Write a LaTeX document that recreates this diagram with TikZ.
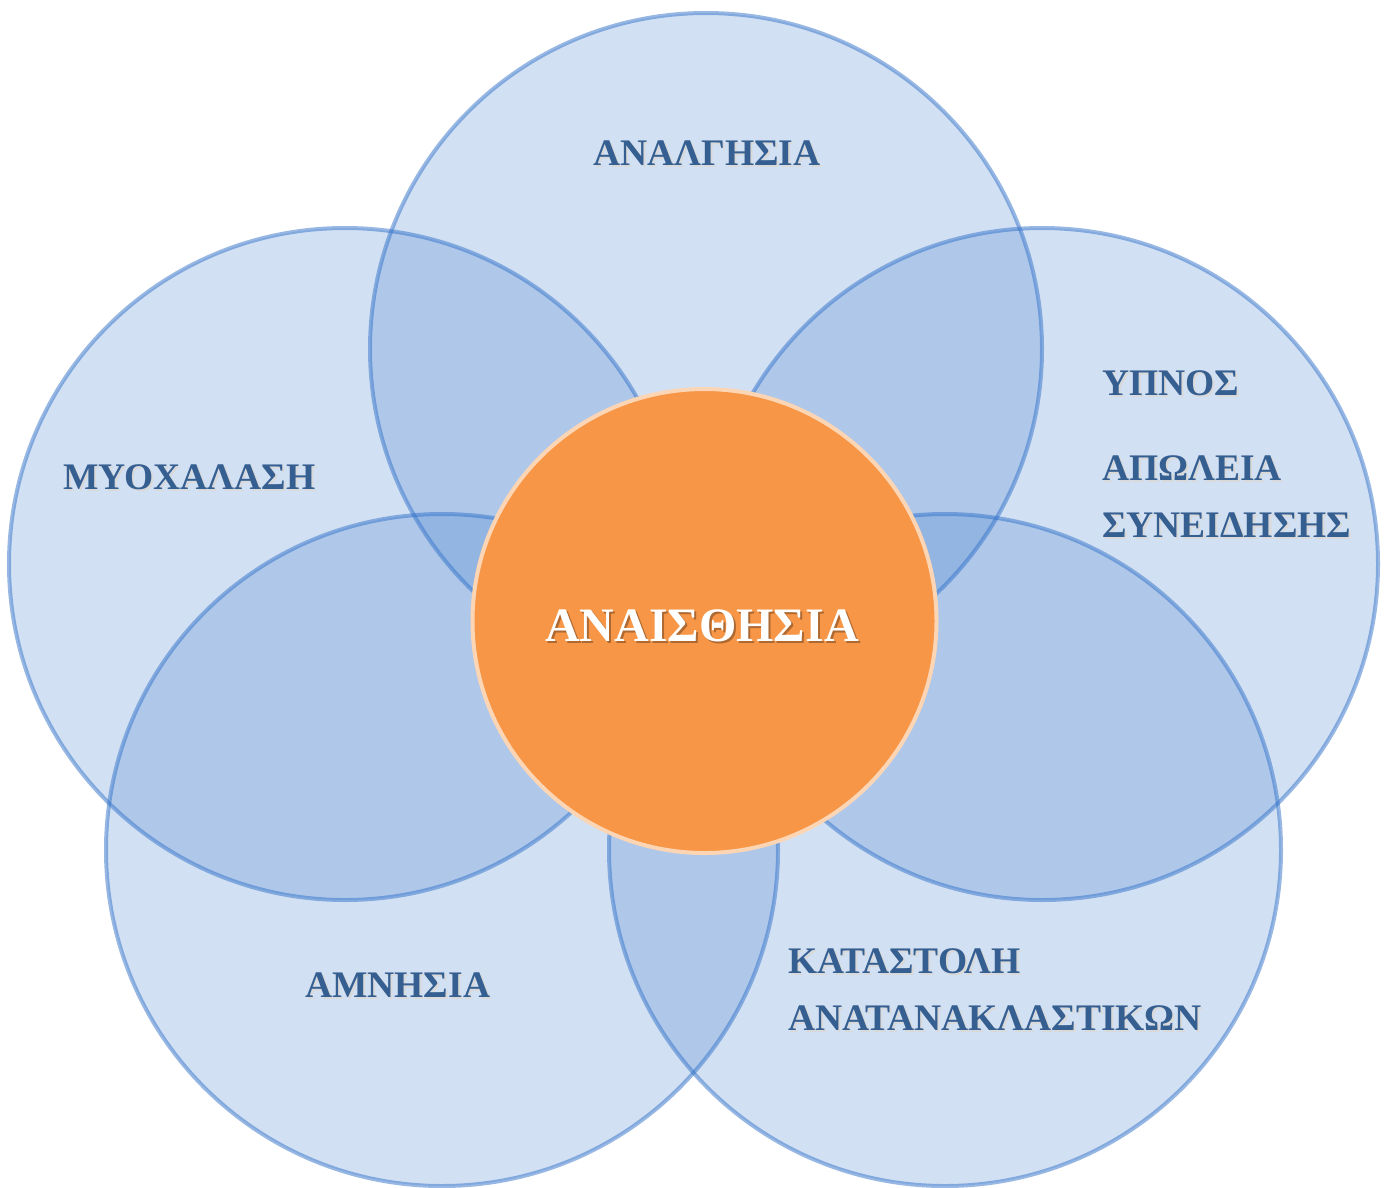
\documentclass[tikz,border=0pt]{standalone}
\usepackage{fontspec}
\setmainfont{Liberation Serif}
\definecolor{cblue}{RGB}{50,114,200}
\definecolor{tblue}{RGB}{54,95,145}
\definecolor{corange}{RGB}{247,150,70}
\definecolor{cpeach}{RGB}{252,213,180}
\newcommand\shd[2]{\makebox[0pt][l]{\kern2pt\raisebox{-2pt}{\color{#2}#1}}#1}
\tikzset{
  petal/.style={circle, minimum size=672pt, inner sep=0pt, fill=cblue, fill opacity=0.22,
     draw=cblue, draw opacity=0.5, line width=4pt},
  hub/.style={circle, minimum size=464pt, inner sep=0pt, fill=corange, draw=cpeach, line width=4pt},
  lbl/.style={inner sep=0pt, text=tblue, font=\bfseries\fontsize{37.5}{40}\selectfont},
  hublbl/.style={inner sep=0pt, text=white, font=\bfseries\fontsize{48}{52}\selectfont}
}
\begin{document}
\begin{tikzpicture}[x=1pt,y=-1pt]
\useasboundingbox (0,0) rectangle (1387,1187);
\node[petal] (top) at (706,349) {};
\node[petal] (left) at (345,564) {};
\node[petal] (right) at (1042,564) {};
\node[petal] (bleft) at (442,850) {};
\node[petal] (bright) at (945,850) {};
\node[hub] (hub) at (704.5,621) {};
\node[hublbl, anchor=base] (hubtext) at (702,641) {\shd{ΑΝΑΙΣΘΗΣΙΑ}{black!30!corange}};
\node[lbl, anchor=base] (t1) at (707,165) {\shd{ΑΝΑΛΓΗΣΙΑ}{black!15}};
\node[lbl, anchor=base west] (t2) at (63,489) {\shd{ΜΥΟΧΑΛΑΣΗ}{black!15}};
\node[lbl, anchor=base west] (t3a) at (1102,395) {\shd{ΥΠΝΟΣ}{black!15}};
\node[lbl, anchor=base west] (t3b) at (1102,480) {\shd{ΑΠΩΛΕΙΑ}{black!15}};
\node[lbl, anchor=base west] (t3c) at (1102,537) {\shd{ΣΥΝΕΙΔΗΣΗΣ}{black!15}};
\node[lbl, anchor=base west] (t4a) at (788,973) {\shd{ΚΑΤΑΣΤΟΛΗ}{black!15}};
\node[lbl, anchor=base west] (t4b) at (788,1030) {\shd{ΑΝΑΤΑΝΑΚΛΑΣΤΙΚΩΝ}{black!15}};
\node[lbl, anchor=base west] (t5) at (305,997) {\shd{ΑΜΝΗΣΙΑ}{black!15}};
\end{tikzpicture}
\end{document}
